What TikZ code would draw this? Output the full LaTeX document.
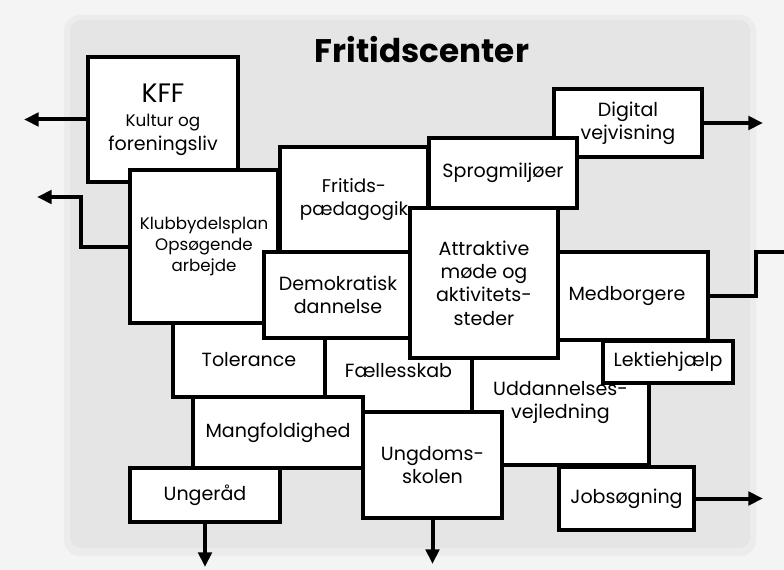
\documentclass[tikz,border=0pt]{standalone}
\usepackage{fontspec}
\setmainfont{Poppins}
\usetikzlibrary{arrows.meta}
\definecolor{fcbg}{RGB}{244,244,244}
\definecolor{fcskygge}{RGB}{236,236,236}
\definecolor{fcpanel}{RGB}{229,229,229}
\newdimen\px \px=0.75pt
\tikzset{
  blok/.style={draw=black,line width=3.3pt,fill=white,align=center,inner sep=0pt,
    font=\fontsize{14.3}{17.5}\selectfont},
  bsize/.style 2 args={minimum width=#1\px,minimum height=#2\px},
  udpil/.style={line width=3pt,-{Triangle[length=11pt,width=10pt]}},
  udlinje/.style={line width=3pt}
}

\begin{document}
\begin{tikzpicture}[x=0.75pt,y=-0.75pt]
  \useasboundingbox (0,0) rectangle (784,570);
  \fill[fcbg] (0,0) rectangle (784,570);
  \fill[fcskygge,rounded corners=12pt] (64,15) rectangle (756,556);
  \fill[fcpanel,rounded corners=8pt] (70,20) rectangle (750,548);
  \node[font=\bfseries\fontsize{24.5}{28}\selectfont] (titel) at (422,50) {Fritidscenter};

  % bagerste lag
  \node[blok,bsize={150}{125}] (kff) at (163,119.5)
    {{\fontsize{20}{22}\selectfont KFF}\\[1pt]\fontsize{12.6}{15.5}\selectfont Kultur og\\foreningsliv};
  \node[blok,bsize={152}{74}] (tol) at (249,360) {Tolerance};
  \node[blok,bsize={148}{153},font=\fontsize{12.5}{15.5}\selectfont] (klub) at (204,246.5)
    {Klubbydelsplan\\Opsøgende\\arbejde};
  \node[blok,bsize={148}{105},font=\fontsize{13.8}{17.5}\selectfont] (frit) at (354,199.5)
    {Fritids-\\pædagogik};
  \node[blok,bsize={148}{68}] (dig) at (628,123) {Digital\\vejvisning};
  \node[blok,bsize={148}{70}] (sprog) at (503,173) {Sprogmiljøer};
  \node[blok,bsize={177}{125}] (udd) at (560.5,402.5) {Uddannelses-\\vejledning};
  \node[blok,bsize={147}{82}] (faell) at (398.5,371) {Fællesskab};
  \node[blok,bsize={162}{88}] (med) at (627,296) {Medborgere};
  \node[blok,bsize={148}{86}] (demo) at (338,295) {Demokratisk\\dannelse};
  % forreste lag
  \node[blok,bsize={148}{150}] (attr) at (484,283) {Attraktive\\møde og\\aktivitets-\\steder};
  \node[blok,bsize={130}{42}] (lekt) at (668,362) {Lektiehjælp};
  \node[blok,bsize={170}{71}] (mang) at (278,432.5) {Mangfoldighed};
  \node[blok,bsize={139}{106}] (ungd) at (432.5,465) {Ungdoms-\\skolen};
  \node[blok,bsize={150}{54}] (raad) at (205,495) {Ungeråd};
  \node[blok,bsize={135}{63}] (job) at (626.5,498.5) {Jobsøgning};

  % pile ud af centret
  \coordinate (kffud) at (24,119.5);
  \coordinate (klubud) at (37,197);
  \coordinate (digud) at (763,123);
  \coordinate (medud) at (784,252);
  \coordinate (jobud) at (763,498.5);
  \coordinate (ungdud) at (432.5,564);
  \coordinate (raadud) at (205,567);
  \draw[udpil] (kff.west) -- (kffud);
  \draw[udpil] (klub.west) -- ++(-47,0) |- (klubud);
  \draw[udpil] (dig.east) -- (digud);
  \draw[udlinje] (med.east) -- ++(46,0) |- (medud);
  \draw[udpil] (job.east) -- (jobud);
  \draw[udpil] (ungd.south) -- (ungdud);
  \draw[udpil] (raad.south) -- (raadud);
\end{tikzpicture}
\end{document}
